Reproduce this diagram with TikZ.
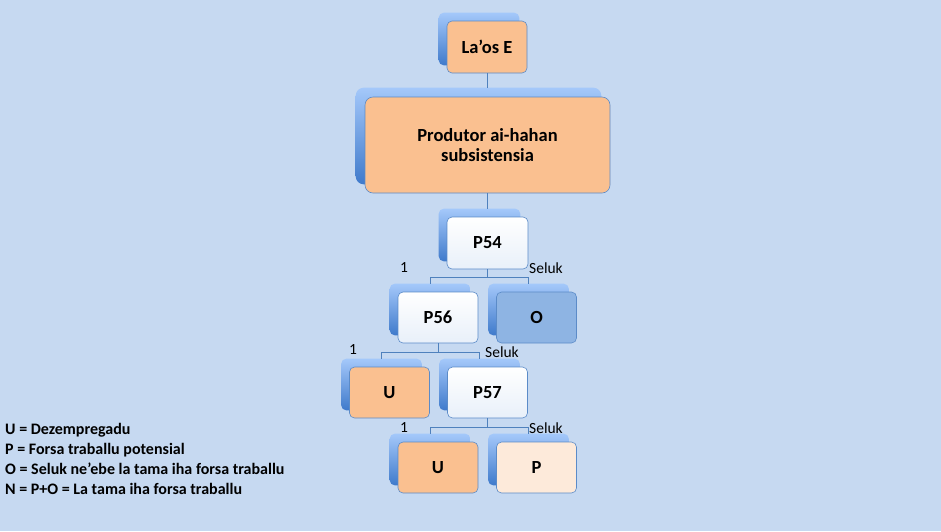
\documentclass[tikz,border=0pt]{standalone}
\usepackage{fontspec}
\setmainfont{Carlito}
\usetikzlibrary{positioning, backgrounds, fit, calc}
\definecolor{cPage}{HTML}{C6D9F1}
\definecolor{cPeach}{HTML}{FAC090}
\definecolor{cPale}{HTML}{FDEADA}
\definecolor{cOther}{HTML}{8EB4E3}
\definecolor{cEdge}{HTML}{5B8BC8}
\definecolor{cBackTop}{HTML}{A4C8FA}
\definecolor{cBackBot}{HTML}{3F7ACB}
\definecolor{cLink}{HTML}{4F81BD}

\begin{document}
\begin{tikzpicture}[
  x=1pt, y=-1pt,
  font=\bfseries,
  card/.style={rounded corners=5pt, draw=cEdge, line width=0.6pt, align=center,
               minimum width=80pt, minimum height=51pt, inner sep=2pt,
               font=\fontsize{18.5}{20}\selectfont\bfseries},
  peach/.style={card, fill=cPeach},
  plain/.style={card, top color=white, bottom color=cPage!40!white},
  back/.style={rounded corners=5pt, top color=cBackTop, bottom color=cBackBot,
               inner sep=0pt},
  link/.style={draw=cLink, line width=0.6pt},
  tag/.style={font=\fontsize{15.5}{17}\selectfont, inner sep=1pt},
]

% ====================== page ===========================================
\begin{scope}[on background layer]
  \fill[cPage] (0,0) rectangle (941,531);
\end{scope}

% ====================== top of the tree ================================
\node[peach, minimum height=52pt] (laos) at (487,47) {La’os E};
\node[peach, rounded corners=8pt, minimum width=245pt, minimum height=96pt]
  (prod) at (487.5,145) {Produtor ai-hahan\\subsistensia};
\node[plain, minimum width=81pt, minimum height=52pt] (p54) at (487.5,243) {P54};

% ====================== second level ===================================
\node[plain] (p56) at (438,317.5) {P56};
\node[card, fill=cOther] (o) at (536.5,317.5) {O};

% ====================== third level ====================================
\node[peach] (u1) at (389.5,392.5) {U};
\node[plain] (p57) at (487.5,392.5) {P57};

% ====================== bottom level ===================================
\node[peach] (u2) at (438,467.5) {U};
\node[card, fill=cPale] (p) at (536.5,467.5) {P};

% back plates, shifted up and left
\begin{scope}[on background layer]
  \foreach \n in {laos,p54,p56,o,u1,p57,u2,p}
    \node[back, fit=(\n), xshift=-8pt, yshift=8pt] (\n-b) {};
  \node[back, rounded corners=8pt, fit=(prod), xshift=-9pt, yshift=9pt] (prod-b) {};
\end{scope}

% ====================== connectors =====================================
\draw[link] (laos.south) -- (laos.south |- prod-b.north);
\draw[link] (prod.south) -- (prod.south |- p54-b.north);

\coordinate (j1) at (487.5,277);
\draw[link] (p54.south) -- (j1);
\draw[link] (j1) -| (p56-b.north);
\draw[link] (j1) -| (o-b.north);

\coordinate (j2) at (438,352);
\draw[link] (p56.south) -- (j2);
\draw[link] (j2) -| (u1-b.north);
\draw[link] (j2) -| (p57-b.north);

\coordinate (j3) at (487.5,427);
\draw[link] (p57.south) -- (j3);
\draw[link] (j3) -| (u2-b.north);
\draw[link] (j3) -| (p-b.north);

% branch labels
\node[tag] (one1) at (404,268) {1};
\node[tag, anchor=west] (oth1) at (528,268) {Seluk};
\node[tag] (one2) at (353,350) {1};
\node[tag, anchor=west] (oth2) at (484,352) {Seluk};
\node[tag] (one3) at (404,428) {1};
\node[tag, anchor=west] (oth3) at (528,428) {Seluk};

% legend
\node[anchor=base west, align=left, inner sep=0pt,
      font=\fontsize{16}{20}\selectfont\bfseries] (legend) at (5,494)
  {U = Dezempregadu\\
   P = Forsa traballu potensial\\
   O = Seluk ne’ebe la tama iha forsa traballu\\
   N = P+O = La tama iha forsa traballu};

\end{tikzpicture}
\end{document}
